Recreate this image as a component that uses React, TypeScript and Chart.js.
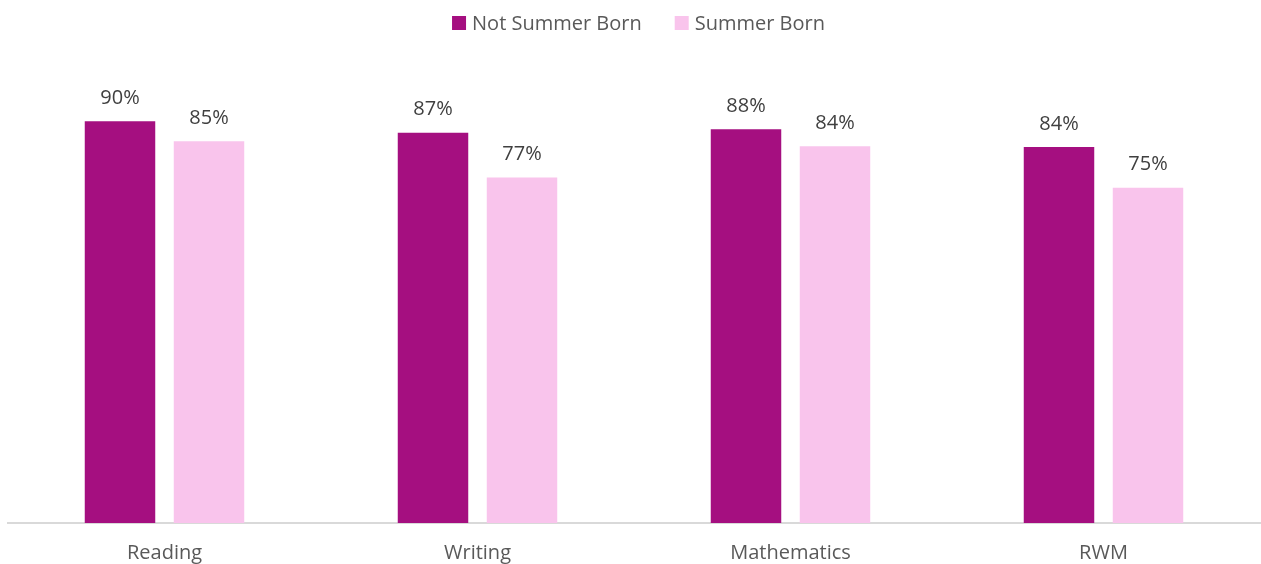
import React, { useEffect, useRef } from "react";
import { Chart, registerables } from "chart.js";

Chart.register(...registerables);

const categories = ["Reading", "Writing", "Mathematics", "RWM"];
const seriesNames = ["Not Summer Born", "Summer Born"];
const notSummerBorn = [89.8, 87.2, 88.0, 84.0];
const summerBorn = [85.3, 77.2, 84.2, 74.9];
const seriesColors = ["#a50f80", "#f9c4ec"];

const FONT = "'Open Sans', 'DejaVu Sans', sans-serif";

const valueLabels = {
  id: "valueLabels",
  afterDatasetsDraw(chart: any) {
    const ctx = chart.ctx;
    ctx.save();
    ctx.font = `20px ${FONT}`;
    ctx.fillStyle = "#404040";
    ctx.textAlign = "center";
    ctx.textBaseline = "alphabetic";
    chart.data.datasets.forEach((ds: any, i: number) => {
      const meta = chart.getDatasetMeta(i);
      meta.data.forEach((bar: any, j: number) => {
        const v = ds.data[j] as number;
        ctx.fillText(Math.round(v) + "%", bar.x, bar.y - 17.5);
      });
    });
    ctx.restore();
  },
};

const topLegend = {
  id: "topLegend",
  afterDraw(chart: any) {
    const ctx = chart.ctx;
    ctx.save();
    ctx.font = `20px ${FONT}`;
    ctx.textBaseline = "alphabetic";
    ctx.textAlign = "left";
    const box = 14;
    const gap = 6;
    const itemGap = 33;
    const items = chart.data.datasets.map((ds: any) => ({
      label: ds.label as string,
      color: ds.backgroundColor as string,
      w: ctx.measureText(ds.label).width,
    }));
    const total =
      items.reduce((s: number, it: any) => s + box + gap + it.w, 0) +
      itemGap * (items.length - 1);
    let x = (chart.width - total) / 2 + 8;
    items.forEach((it: any) => {
      ctx.fillStyle = it.color;
      ctx.fillRect(x, 16, box, box);
      x += box + gap;
      ctx.fillStyle = "#595959";
      ctx.fillText(it.label, x, 29.5);
      x += it.w + itemGap;
    });
    ctx.restore();
  },
};

export default function App() {
  const ref = useRef<HTMLCanvasElement | null>(null);

  useEffect(() => {
    if (!ref.current) return;
    const chart = new Chart(ref.current, {
      type: "bar",
      data: {
        labels: categories,
        datasets: [
          {
            label: seriesNames[0],
            data: notSummerBorn,
            backgroundColor: seriesColors[0],
            categoryPercentage: 0.5687,
            barPercentage: 0.792,
          },
          {
            label: seriesNames[1],
            data: summerBorn,
            backgroundColor: seriesColors[1],
            categoryPercentage: 0.5687,
            barPercentage: 0.792,
          },
        ],
      },
      options: {
        animation: false,
        responsive: true,
        maintainAspectRatio: false,
        layout: { padding: { top: 75.5, left: 8, right: 1, bottom: -19 } },
        plugins: {
          legend: { display: false },
          tooltip: { enabled: false },
        },
        scales: {
          x: {
            grid: { display: false, drawTicks: false },
            border: { display: true, color: "#d9d9d9", width: 2 },
            ticks: {
              color: "#595959",
              font: { family: FONT, size: 20 },
              padding: 18,
            },
          },
          y: {
            display: false,
            min: 0,
            max: 100,
          },
        },
      },
      plugins: [valueLabels, topLegend],
    });
    if ((document as any).fonts && (document as any).fonts.ready) {
      (document as any).fonts.ready.then(() => chart.update());
    }
    return () => chart.destroy();
  }, []);

  return (
    <div
      style={{
        position: "absolute",
        left: 0,
        top: 0,
        width: 1261,
        height: 564,
        background: "#ffffff",
      }}
    >
      <canvas ref={ref} />
    </div>
  );
}
